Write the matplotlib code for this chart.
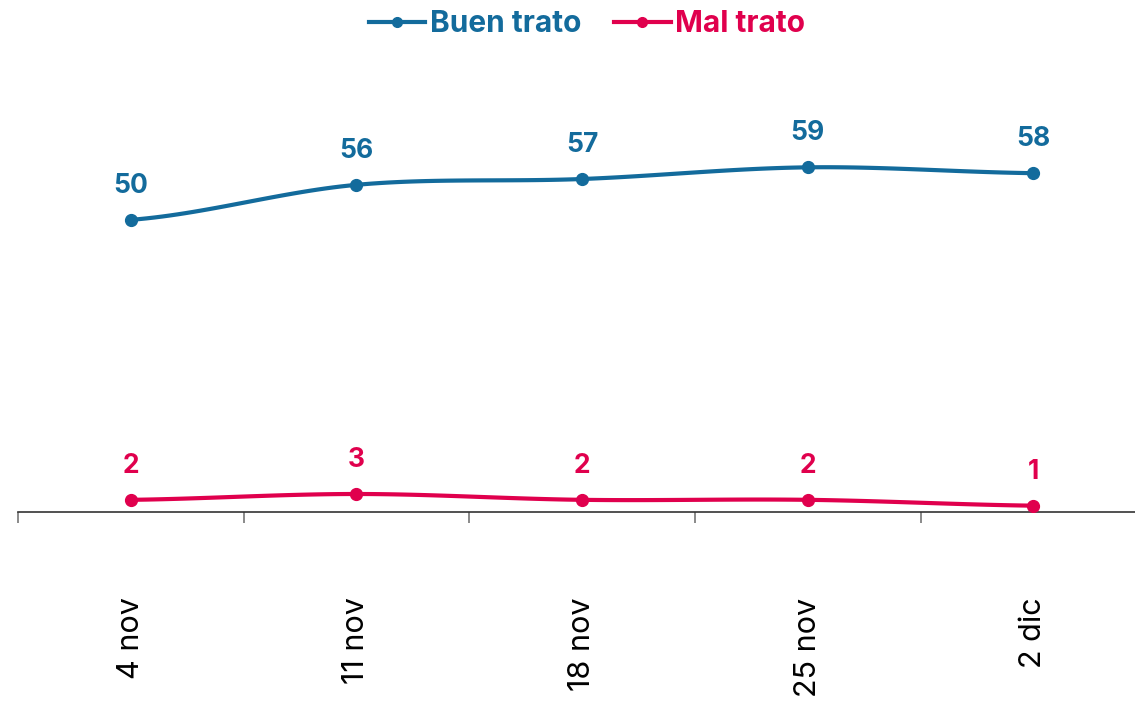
import numpy as np
import matplotlib.pyplot as plt
from matplotlib.lines import Line2D

# datos
fechas = ['4 nov', '11 nov', '18 nov', '25 nov', '2 dic']
buen_trato = [50, 56, 57, 59, 58]
mal_trato = [2, 3, 2, 2, 1]

color_buen = '#136b9c'
color_mal = '#e0004d'

plt.rcParams['font.family'] = ['Inter', 'DejaVu Sans']


def curva_suave(x, y, pasos=30):
    # spline tipo catmull-rom solo para dibujar la linea
    x = np.asarray(x, float)
    y = np.asarray(y, float)
    px = np.concatenate([[2 * x[0] - x[1]], x, [2 * x[-1] - x[-2]]])
    py = np.concatenate([[y[0]], y, [y[-1]]])
    xs, ys = [], []
    t = np.linspace(0, 1, pasos)
    for i in range(1, len(px) - 2):
        for p, out in ((px, xs), (py, ys)):
            p0, p1, p2, p3 = p[i - 1], p[i], p[i + 1], p[i + 2]
            out.extend(0.5 * (2 * p1 + (-p0 + p2) * t
                              + (2 * p0 - 5 * p1 + 4 * p2 - p3) * t ** 2
                              + (-p0 + 3 * p1 - 3 * p2 + p3) * t ** 3))
    return np.array(xs), np.array(ys)


fig = plt.figure(figsize=(11.35, 7.01), dpi=100)
ax = fig.add_axes([18 / 1135, 1 - 511.5 / 701, 1 - 18 / 1135, (511.5 - 60) / 701])

x = np.arange(len(fechas))
for serie, color in ((buen_trato, color_buen), (mal_trato, color_mal)):
    sx, sy = curva_suave(x, serie)
    ax.plot(sx, sy, color=color, lw=3, solid_capstyle='round', zorder=2)
    ax.plot(x, serie, 'o', color=color, ms=8.5, zorder=3)
    for xi, v in zip(x, serie):
        ax.annotate(str(v), (xi, v), xytext=(0, 19.5), textcoords='offset points',
                    ha='center', va='baseline', fontsize=19, fontweight='bold',
                    color=color)

ax.set_xlim(-0.5, 4.45)
ax.set_ylim(0, 77.4)

for s in ['top', 'right', 'left']:
    ax.spines[s].set_visible(False)
ax.spines['bottom'].set_color('#333333')
ax.spines['bottom'].set_linewidth(1.2)
ax.set_yticks([])

ax.set_xticks(x)
ax.set_xticklabels(fechas, rotation=90, fontsize=22, fontweight='normal')
ax.tick_params(axis='x', which='major', length=0, pad=62, colors='black')
ax.set_xticks(np.arange(-0.5, 4, 1), minor=True)
ax.tick_params(axis='x', which='minor', length=8, width=1.2, color='#777777')

handles = [Line2D([0], [0], color=color_buen, lw=3, marker='o', ms=7),
           Line2D([0], [0], color=color_mal, lw=3, marker='o', ms=7)]
leg = fig.legend(handles, ['Buen trato', 'Mal trato'], loc='center',
                 bbox_to_anchor=(587 / 1135, 1 - 24 / 701), ncol=2, frameon=False,
                 prop={'size': 21.5, 'weight': 'bold'}, handlelength=1.9,
                 handletextpad=0.15, columnspacing=1.1)
for txt, c in zip(leg.get_texts(), [color_buen, color_mal]):
    txt.set_color(c)

fig.savefig('out.png', dpi=100)
